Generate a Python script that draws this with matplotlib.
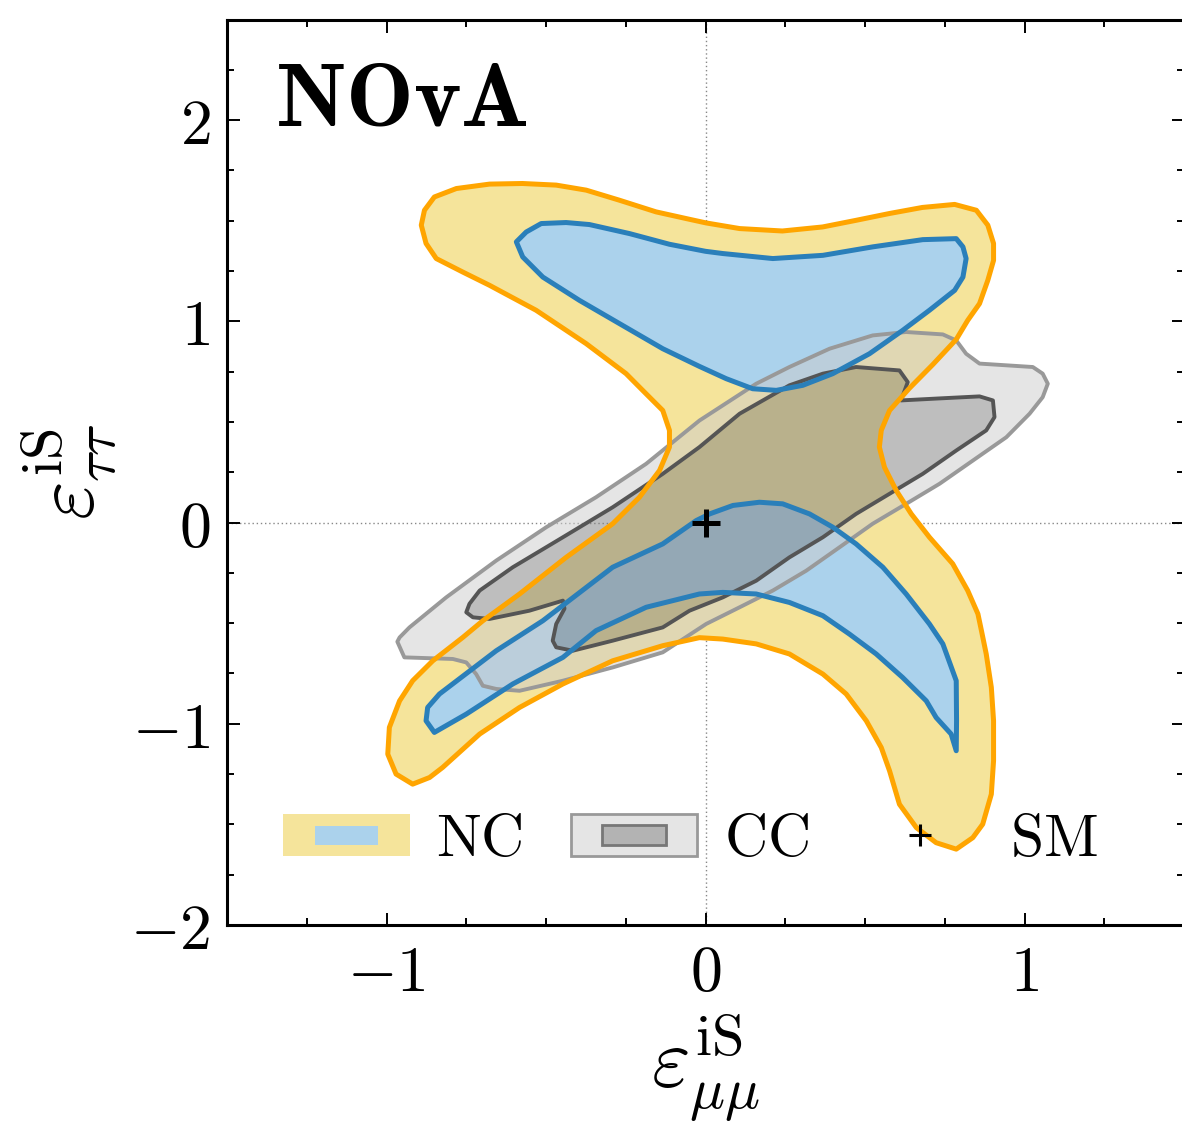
import numpy as np
import matplotlib
matplotlib.use("Agg")
import matplotlib.pyplot as plt
from matplotlib.patches import Polygon, Rectangle, Patch
from matplotlib.path import Path
from matplotlib.patches import PathPatch
from matplotlib.legend_handler import HandlerBase
from matplotlib.lines import Line2D
from matplotlib.ticker import MultipleLocator, FuncFormatter

plt.rcParams['mathtext.fontset'] = 'cm'
plt.rcParams['font.family'] = ['DejaVu Serif']

# ---------------- data (contour vertices in data coordinates) ----------------
nc_outer_x = [-0.891, -0.881, -0.850, -0.781, -0.677, -0.574, -0.468, -0.374, -0.270, -0.155,
              -0.050, 0.002, 0.107, 0.241, 0.367, 0.472, 0.577, 0.680, 0.781, 0.849,
              0.885, 0.903, 0.903, 0.885, 0.859, 0.822, 0.786, 0.713, 0.639, 0.577,
              0.551, 0.545, 0.561, 0.598, 0.645, 0.702, 0.775, 0.822, 0.854, 0.865,
              0.880, 0.896, 0.903, 0.903, 0.896, 0.869, 0.838, 0.786, 0.723, 0.661,
              0.608, 0.577, 0.551, 0.504, 0.441, 0.368, 0.263, 0.159, 0.054, -0.019,
              -0.134, -0.291, -0.447, -0.583, -0.708, -0.824, -0.865, -0.918, -0.970, -0.996,
              -0.991, -0.959, -0.918, -0.855, -0.761, -0.698, -0.583, -0.437, -0.291, -0.207,
              -0.144, -0.113, -0.113, -0.134, -0.197, -0.249, -0.374, -0.531, -0.677, -0.761,
              -0.844, -0.876]
nc_outer_y = [1.478, 1.552, 1.618, 1.660, 1.682, 1.685, 1.677, 1.652, 1.602, 1.544,
              1.507, 1.489, 1.461, 1.449, 1.469, 1.502, 1.536, 1.566, 1.581, 1.552,
              1.478, 1.387, 1.303, 1.204, 1.088, 1.005, 0.910, 0.786, 0.667, 0.557,
              0.458, 0.375, 0.275, 0.159, 0.043, -0.073, -0.205, -0.338, -0.454, -0.537,
              -0.653, -0.819, -0.985, -1.184, -1.350, -1.499, -1.566, -1.623, -1.591, -1.516,
              -1.400, -1.234, -1.118, -0.985, -0.852, -0.753, -0.653, -0.603, -0.579, -0.572,
              -0.612, -0.687, -0.802, -0.919, -1.051, -1.217, -1.267, -1.300, -1.250, -1.151,
              -1.018, -0.886, -0.786, -0.687, -0.571, -0.488, -0.355, -0.173, -0.006, 0.126,
              0.259, 0.375, 0.458, 0.557, 0.657, 0.740, 0.889, 1.055, 1.179, 1.245,
              1.312, 1.387]

nc_inner_up_x = [-0.593, -0.562, -0.515, -0.437, -0.364, -0.238, -0.113, 0.000, 0.054, 0.211,
                 0.368, 0.524, 0.681, 0.786, 0.807, 0.817, 0.807, 0.781, 0.702, 0.618,
                 0.514, 0.399, 0.305, 0.222, 0.148, 0.065, -0.019, -0.134, -0.270, -0.395,
                 -0.510, -0.573]
nc_inner_up_y = [1.395, 1.444, 1.486, 1.491, 1.481, 1.436, 1.383, 1.348, 1.337, 1.312,
                 1.328, 1.370, 1.406, 1.411, 1.370, 1.312, 1.220, 1.154, 1.055, 0.955,
                 0.839, 0.740, 0.682, 0.657, 0.665, 0.715, 0.776, 0.864, 0.989, 1.104,
                 1.220, 1.320]

nc_inner_low_x = [-0.850, -0.876, -0.871, -0.834, -0.656, -0.510, -0.291, -0.134, -0.029, 0.013,
                  0.086, 0.169, 0.242, 0.326, 0.399, 0.472, 0.556, 0.629, 0.702, 0.744,
                  0.786, 0.787, 0.786, 0.770, 0.723, 0.692, 0.618, 0.535, 0.451, 0.368,
                  0.263, 0.159, 0.054, -0.019, -0.186, -0.343, -0.447, -0.604, -0.750]
nc_inner_low_y = [-1.043, -0.985, -0.919, -0.852, -0.637, -0.488, -0.222, -0.106, 0.010, 0.043,
                  0.085, 0.101, 0.093, 0.043, -0.023, -0.106, -0.222, -0.355, -0.504, -0.603,
                  -0.786, -0.985, -1.134, -1.051, -0.969, -0.886, -0.770, -0.653, -0.554, -0.463,
                  -0.397, -0.355, -0.347, -0.355, -0.421, -0.537, -0.670, -0.802, -0.952]

cc_outer_x = [-0.966, -0.959, -0.928, -0.813, -0.656, -0.499, -0.343, -0.186, -0.019, 0.159,
              0.263, 0.389, 0.524, 0.629, 0.744, 0.786, 0.817, 0.859, 1.026, 1.057,
              1.073, 1.057, 1.016, 0.943, 0.838, 0.734, 0.629, 0.524, 0.420, 0.316,
              0.211, 0.107, 0.002, -0.134, -0.291, -0.447, -0.583, -0.656, -0.698, -0.719,
              -0.750, -0.792, -0.944]
cc_outer_y = [-0.592, -0.571, -0.521, -0.372, -0.189, -0.023, 0.126, 0.292, 0.507, 0.690,
              0.773, 0.864, 0.930, 0.947, 0.935, 0.905, 0.839, 0.790, 0.773, 0.740,
              0.690, 0.623, 0.541, 0.424, 0.308, 0.193, 0.093, -0.006, -0.123, -0.239,
              -0.338, -0.421, -0.504, -0.645, -0.720, -0.786, -0.836, -0.827, -0.811, -0.753,
              -0.695, -0.678, -0.670]

cc_inner_x = [-0.750, -0.740, -0.708, -0.604, -0.447, -0.291, -0.134, -0.019, 0.107, 0.263,
              0.368, 0.472, 0.608, 0.634, 0.613, 0.734, 0.859, 0.901, 0.906, 0.880,
              0.786, 0.681, 0.577, 0.472, 0.368, 0.263, 0.159, 0.054, -0.050, -0.134,
              -0.291, -0.416, -0.468, -0.479, -0.468, -0.442, -0.447, -0.552, -0.677, -0.729]
cc_inner_y = [-0.446, -0.404, -0.338, -0.222, -0.073, 0.076, 0.242, 0.375, 0.541, 0.682,
              0.740, 0.773, 0.756, 0.698, 0.607, 0.617, 0.627, 0.607, 0.524, 0.458,
              0.358, 0.242, 0.143, 0.043, -0.073, -0.173, -0.289, -0.372, -0.438, -0.521,
              -0.587, -0.637, -0.620, -0.587, -0.504, -0.428, -0.388, -0.438, -0.479, -0.471]

sm_point = (0.0, 0.0)
x_ticks = [-1, 0, 1]
y_ticks = [-2, -1, 0, 1, 2]
legend_labels = [r'$\mathrm{NC}$', r'$\mathrm{CC}$', r'$\mathrm{SM}$']
title_text = r'$\mathbf{NOvA}$'

# ---------------- styles ----------------
YELLOW = '#f5e49b'
ORANGE = '#ffa500'
LBLUE = '#abd2ec'
BLUE = '#2a7fba'

W, H = 1182, 1128
fig = plt.figure(figsize=(W / 100, H / 100), dpi=100)
ax = fig.add_axes([227 / W, (H - 925) / H, (1184 - 227) / W, (925 - 19.5) / H])
ax.set_xlim(-1.5, 1.5)
ax.set_ylim(-2, 2.5)


def poly(x, y):
    return np.column_stack([x, y])


def ring_path(outer, inner):
    def area(p):
        return 0.5 * np.sum(p[:, 0] * np.roll(p[:, 1], -1) - np.roll(p[:, 0], -1) * p[:, 1])
    if area(outer) < 0:
        outer = outer[::-1]
    if area(inner) > 0:
        inner = inner[::-1]
    verts = np.concatenate([outer, outer[:1], inner, inner[:1]])
    codes = ([Path.MOVETO] + [Path.LINETO] * (len(outer) - 1) + [Path.CLOSEPOLY]
             + [Path.MOVETO] + [Path.LINETO] * (len(inner) - 1) + [Path.CLOSEPOLY])
    return Path(verts, codes)


nco = poly(nc_outer_x, nc_outer_y)
nciu = poly(nc_inner_up_x, nc_inner_up_y)
ncil = poly(nc_inner_low_x, nc_inner_low_y)
cco = poly(cc_outer_x, cc_outer_y)
cci = poly(cc_inner_x, cc_inner_y)

# reference lines
ax.axvline(0, color='#888888', lw=1.0, ls=(0, (1, 2)), zorder=0.5)
ax.axhline(0, color='#888888', lw=1.0, ls=(0, (1, 2)), zorder=0.5)

# fills
ax.add_patch(Polygon(nco, closed=True, fc=YELLOW, ec='none', zorder=1))
ax.add_patch(Polygon(nciu, closed=True, fc=LBLUE, ec='none', zorder=1.1))
ax.add_patch(Polygon(ncil, closed=True, fc=LBLUE, ec='none', zorder=1.1))
ax.add_patch(PathPatch(ring_path(cco, cci), fc='#cccccc', ec='none', alpha=0.5, zorder=2))
ax.add_patch(Polygon(cci, closed=True, fc='#7f7f7f', ec='none', alpha=0.5, zorder=2))

# lines
ax.add_patch(Polygon(cco, closed=True, fill=False, ec='#999999', lw=2.8, zorder=3,
                     joinstyle='round'))
ax.add_patch(Polygon(cci, closed=True, fill=False, ec='#555555', lw=2.8, zorder=3,
                     joinstyle='round'))
ax.add_patch(Polygon(nco, closed=True, fill=False, ec=ORANGE, lw=3.6, zorder=4,
                     joinstyle='round'))
ax.add_patch(Polygon(nciu, closed=True, fill=False, ec=BLUE, lw=3.6, zorder=4,
                     joinstyle='round'))
ax.add_patch(Polygon(ncil, closed=True, fill=False, ec=BLUE, lw=3.6, zorder=4,
                     joinstyle='round'))

ax.plot([sm_point[0]], [sm_point[1]], marker='+', color='black', ms=20, mew=3.6,
        ls='none', zorder=6)

# ticks
ax.xaxis.set_minor_locator(MultipleLocator(0.25))
ax.yaxis.set_minor_locator(MultipleLocator(0.25))
ax.set_xticks(x_ticks)
ax.set_yticks(y_ticks)
fmt = FuncFormatter(lambda v, p: r'$%d$' % int(round(v)))
ax.xaxis.set_major_formatter(fmt)
ax.yaxis.set_major_formatter(fmt)
ax.tick_params(which='both', direction='in', top=True, right=True, width=1.4)
ax.tick_params(which='major', length=9, labelsize=46, pad=12)
ax.tick_params(axis='x', which='major', pad=13)
ax.tick_params(which='minor', length=5)
for s in ax.spines.values():
    s.set_linewidth(2.2)

ax.set_xlabel(r'$\varepsilon^{\mathrm{iS}}_{\mu\mu}$', fontsize=60, labelpad=6)
ax.set_ylabel(r'$\varepsilon^{\mathrm{iS}}_{\tau\tau}$', fontsize=60, labelpad=8)

ax.text((275 - 227) / 957, (925 - 125) / 905.5, title_text, transform=ax.transAxes,
        fontsize=65, ha='left', va='baseline', zorder=7)


# legend
class NestedRect(HandlerBase):
    def __init__(self, okw, ikw, fw, fh):
        super().__init__()
        self.okw, self.ikw, self.fw, self.fh = okw, ikw, fw, fh

    def create_artists(self, legend, orig_handle, xdescent, ydescent, width, height,
                       fontsize, trans):
        x0, y0 = -xdescent, -ydescent
        o = Rectangle((x0, y0), width, height, transform=trans, **self.okw)
        iw, ih = width * self.fw, height * self.fh
        i = Rectangle((x0 + (width - iw) / 2, y0 + (height - ih) / 2), iw, ih,
                      transform=trans, **self.ikw)
        return [o, i]


h_nc = Patch(facecolor=YELLOW)
h_cc = Patch(facecolor='#e5e5e5')
h_sm = Line2D([], [], marker='+', color='black', ls='none', ms=16, mew=2.2)
hmap = {
    h_nc: NestedRect(dict(fc=YELLOW, ec='none'), dict(fc=LBLUE, ec='none'), 0.5, 0.45),
    h_cc: NestedRect(dict(fc='#e5e5e5', ec='#999999', lw=2.0),
                     dict(fc='#b3b3b3', ec='#777777', lw=2.0), 0.51, 0.46),
}
leg = ax.legend([h_nc, h_cc, h_sm], legend_labels, handler_map=hmap, ncol=3,
                loc='lower left', bbox_to_anchor=((283 - 227) / 957, (925 - 868) / 905.5),
                frameon=False, fontsize=43, borderpad=0, borderaxespad=0,
                handlelength=2.12, handleheight=0.72, handletextpad=0.45,
                columnspacing=0.8)
leg.set_zorder(8)

fig.savefig('out.png', dpi=100)
